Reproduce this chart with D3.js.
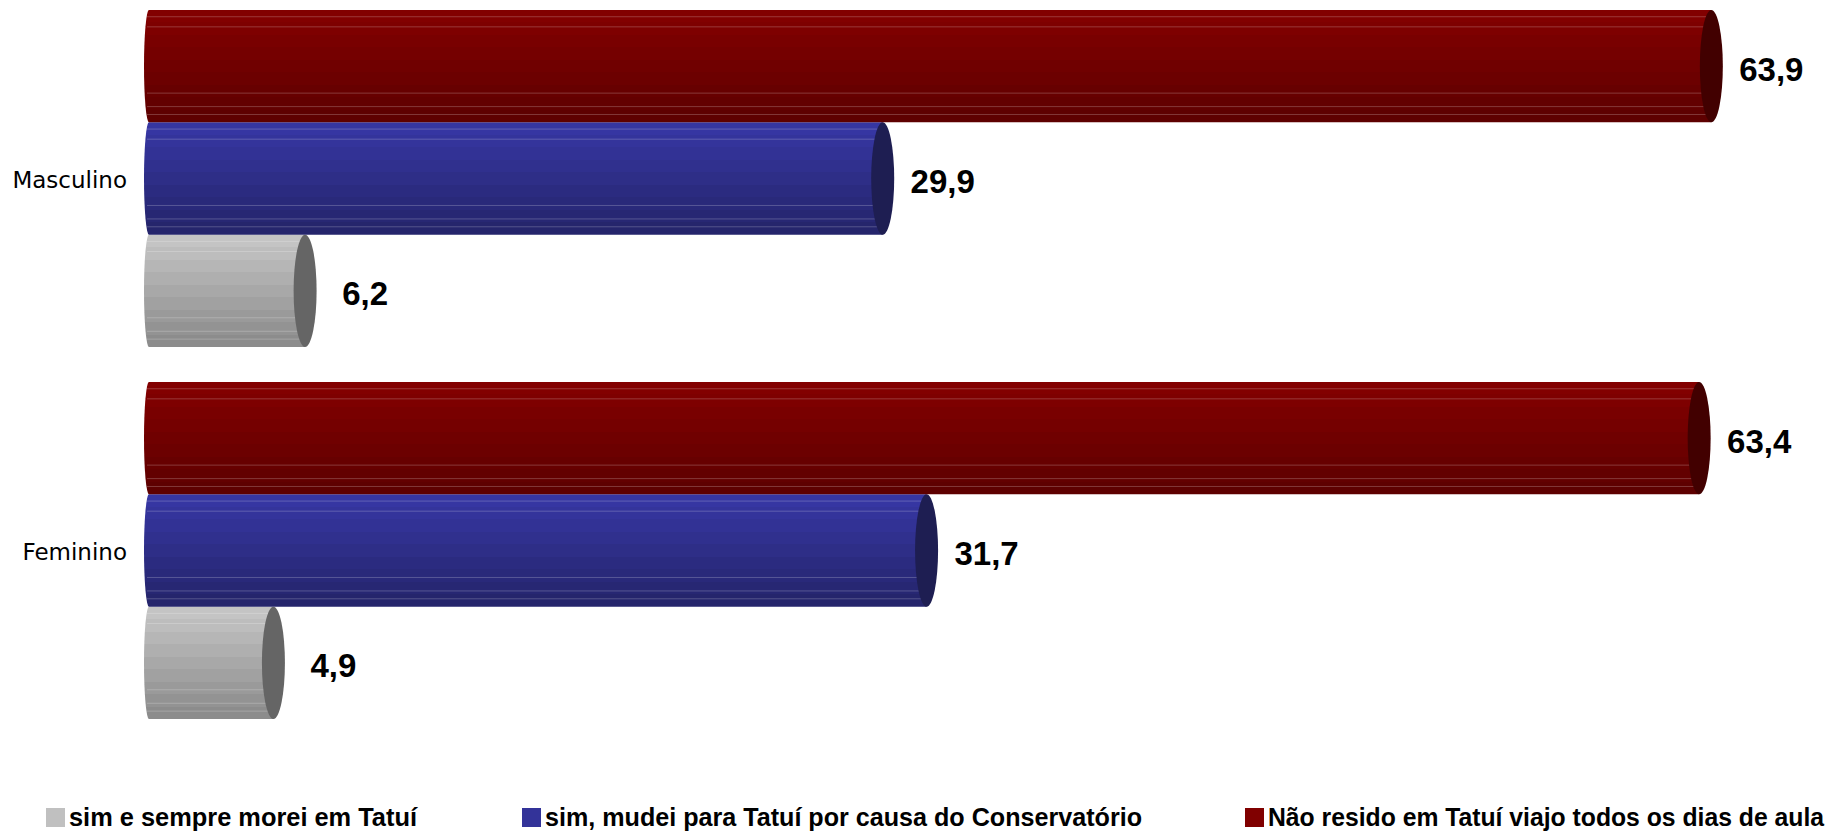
<!DOCTYPE html>
<html>
<head>
<meta charset="utf-8">
<script src="https://cdn.jsdelivr.net/npm/d3@7"></script>
<style>
  html, body { margin: 0; padding: 0; background: #ffffff; }
  svg { display: block; }
</style>
</head>
<body>
<svg id="chart" width="1832" height="833"></svg>
<script>
const categories = ["Masculino", "Feminino"];
const seriesNames = [
  "sim e sempre morei em Tatuí",
  "sim, mudei para Tatuí por causa do Conservatório",
  "Não resido em Tatuí viajo todos os dias de aula"
];
const semprePct = [6.2, 4.9];
const mudeiPct = [29.9, 31.7];
const naoResidoPct = [63.9, 63.4];
const seriesValues = [semprePct, mudeiPct, naoResidoPct];

const palette = [
  { top: "#c4c4c4", bottom: "#8c8c8c", cap: "#656565", swatch: "#c0c0c0" },
  { top: "#3636a2", bottom: "#25256c", cap: "#1e1e52", swatch: "#333399" },
  { top: "#820000", bottom: "#5e0000", cap: "#420000", swatch: "#800000" }
];

const svg = d3.select("#chart");
const defs = svg.append("defs");

palette.forEach((p, i) => {
  const g = defs.append("linearGradient").attr("id", "grad" + i)
    .attr("x1", 0).attr("y1", 0).attr("x2", 0).attr("y2", 1);
  const col = d3.interpolateRgb(p.top, p.bottom);
  const n = 9;
  for (let k = 0; k < n; k++) {
    g.append("stop").attr("offset", k / n).attr("stop-color", col(k / (n - 1)));
    g.append("stop").attr("offset", (k + 1) / n).attr("stop-color", col(k / (n - 1)));
  }
});

const x = d3.scaleLinear().domain([0, 70]).range([154, 1860]);
const yOuter = d3.scaleBand().domain(categories).range([-7.5, 736.5])
  .paddingInner(35 / 372).paddingOuter(35 / 372 / 2);
const order = [2, 1, 0]; // top to bottom within a group
const yInner = d3.scaleBand().domain(order).range([0, yOuter.bandwidth()]);

const fmt = v => d3.format(".1f")(v).replace(".", ",");
const facetFr = [0.06, 0.15, 0.74, 0.86, 0.93];

const rows = [];
categories.forEach((c, ci) => {
  seriesValues.forEach((vals, si) => {
    rows.push({ cat: c, s: si, v: vals[ci] });
  });
});

const bars = svg.append("g").selectAll("g.bar").data(rows).join("g").attr("class", "bar")
  .attr("transform", d => `translate(0,${yOuter(d.cat) + yInner(d.s)})`);

const h = yInner.bandwidth();
const rxCap = 11.5;
const lx = x(0) - 5;

bars.append("path")
  .attr("d", d => {
    const xe = x(d.v);
    return `M${lx},0 L${xe},0 L${xe},${h} L${lx},${h} A5,${h / 2} 0 0 1 ${lx},0 Z`;
  })
  .attr("fill", d => `url(#grad${d.s})`);

bars.each(function(d) {
  const g = d3.select(this);
  facetFr.forEach(f => {
    g.append("line")
      .attr("x1", lx - 2).attr("x2", x(d.v))
      .attr("y1", f * h).attr("y2", f * h)
      .attr("stroke", "#ffffff").attr("stroke-opacity", 0.22).attr("stroke-width", 1);
  });
});

bars.append("ellipse")
  .attr("cx", d => x(d.v)).attr("cy", h / 2)
  .attr("rx", rxCap).attr("ry", h / 2)
  .attr("fill", d => palette[d.s].cap);

bars.append("text")
  .attr("x", d => x(d.v) + 60).attr("y", h / 2 + 3)
  .attr("text-anchor", "middle").attr("dominant-baseline", "central")
  .attr("font-family", "'Liberation Sans', Arial, sans-serif")
  .attr("font-weight", "bold").attr("font-size", 33).attr("fill", "#000")
  .text(d => fmt(d.v));

// category labels
svg.append("g").selectAll("text").data(categories).join("text")
  .attr("x", 127).attr("y", d => yOuter(d) + yOuter.bandwidth() / 2 + 1)
  .attr("text-anchor", "end").attr("dominant-baseline", "central")
  .attr("font-family", "'DejaVu Sans', Verdana, sans-serif")
  .attr("font-size", 23).attr("fill", "#000")
  .text(d => d);

// legend
const legX = [46, 522, 1245];
const legTextW = [348, 597, 556];
const leg = svg.append("g").selectAll("g").data(seriesNames).join("g")
  .attr("transform", (d, i) => `translate(${legX[i]},808)`);
leg.append("rect").attr("width", 19).attr("height", 19)
  .attr("fill", (d, i) => palette[i].swatch);
leg.append("text").attr("x", 23).attr("y", 18)
  .attr("font-family", "'Liberation Sans', Arial, sans-serif")
  .attr("font-weight", "bold").attr("font-size", 25).attr("fill", "#000")
  .attr("textLength", (d, i) => legTextW[i])
  .attr("lengthAdjust", "spacingAndGlyphs")
  .text(d => d);
</script>
</body>
</html>
